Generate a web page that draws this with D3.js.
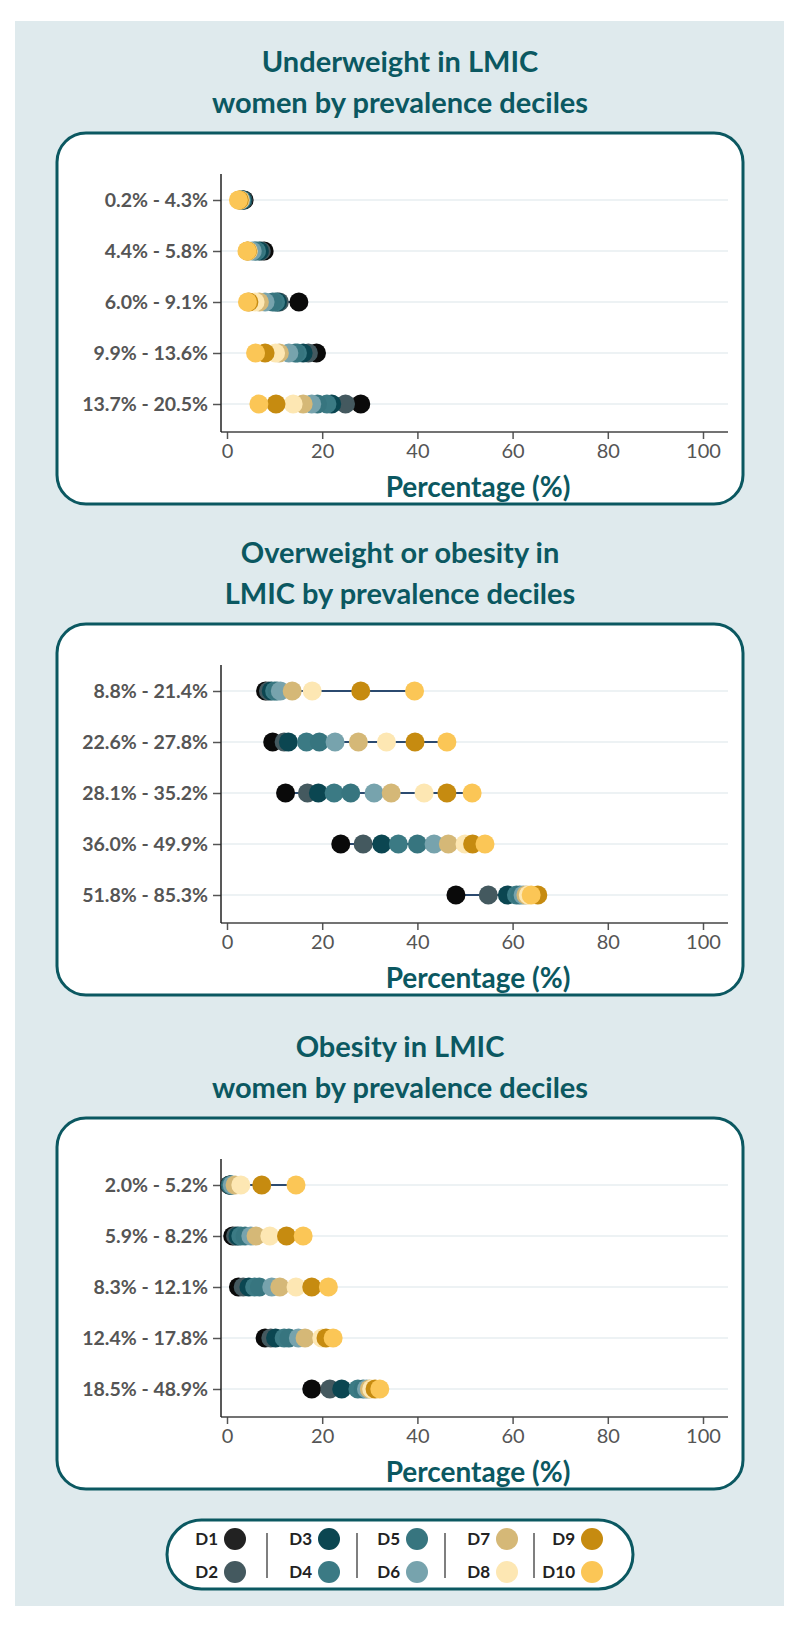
<!DOCTYPE html>
<html>
<head>
<meta charset="utf-8">
<script src="https://cdn.jsdelivr.net/npm/d3@7"></script>
<style>
  body { margin: 0; background: #ffffff; }
  svg { display: block; font-family: Lato, "Open Sans", sans-serif; }
</style>
</head>
<body>
<div id="chart"></div>
<script>
// decile names + colours (legend order)
var deciles = ["D1", "D2", "D3", "D4", "D5", "D6", "D7", "D8", "D9", "D10"];
var decileColors = ["#0a0a0a", "#44595f", "#0b4651", "#3b7a84", "#37757f", "#77a3ad", "#d5b877", "#fde7b3", "#c68b10", "#fbc656"];
var legendColors = ["#222222", "#44595f", "#0b4651", "#3b7a84", "#37757f", "#77a3ad", "#d5b877", "#fde7b3", "#c68b10", "#fbc656"];

var xTicks = [0, 20, 40, 60, 80, 100];

// panel 1 - underweight
var uwTitle = ["Underweight in LMIC", "women by prevalence deciles"];
var uwLabels = ["0.2% - 4.3%", "4.4% - 5.8%", "6.0% - 9.1%", "9.9% - 13.6%", "13.7% - 20.5%"];
var uwValues = [
  [3.6, 3.4, 3.3, 3.1, 3.0, 2.9, 2.8, 2.7, 2.6, 2.4],
  [7.8, 7.2, 6.8, 6.2, 5.8, 5.3, 4.5, 4.4, 4.3, 4.2],
  [15.1, 11.0, 10.6, 10.2, 9.6, 8.0, 6.8, 5.9, 4.6, 4.3],
  [18.8, 17.1, 16.0, 14.8, 14.3, 13.0, 11.0, 10.2, 8.0, 6.0],
  [28.1, 24.9, 22.0, 21.0, 19.0, 17.8, 16.0, 13.9, 10.3, 6.7]
];

// panel 2 - overweight or obesity
var owTitle = ["Overweight or obesity in", "LMIC by prevalence deciles"];
var owLabels = ["8.8% - 21.4%", "22.6% - 27.8%", "28.1% - 35.2%", "36.0% - 49.9%", "51.8% - 85.3%"];
var owValues = [
  [8.1, 8.7, 9.3, 10.0, 10.5, 11.2, 13.7, 17.9, 28.1, 39.4],
  [9.6, 12.0, 12.9, 16.7, 19.4, 22.7, 27.6, 33.5, 39.5, 46.2],
  [12.3, 16.9, 19.2, 22.5, 26.0, 30.9, 34.5, 41.4, 46.2, 51.5],
  [23.9, 28.6, 32.5, 36.0, 40.0, 43.5, 46.5, 50.0, 51.6, 54.2],
  [48.1, 54.9, 58.9, 60.8, 61.5, 62.2, 62.8, 63.3, 65.3, 63.9]
];

// panel 3 - obesity
var obTitle = ["Obesity in LMIC", "women by prevalence deciles"];
var obLabels = ["2.0% - 5.2%", "5.9% - 8.2%", "8.3% - 12.1%", "12.4% - 17.8%", "18.5% - 48.9%"];
var obValues = [
  [0.5, 0.6, 0.7, 0.8, 0.9, 1.1, 1.7, 2.9, 7.3, 14.5],
  [1.2, 1.8, 2.3, 2.9, 3.8, 5.0, 6.1, 9.0, 12.5, 16.0],
  [2.4, 3.4, 4.6, 5.8, 6.8, 9.4, 11.1, 14.5, 17.8, 21.3],
  [8.0, 9.2, 10.2, 12.0, 13.0, 15.0, 16.4, 19.9, 20.8, 22.3],
  [17.8, 21.6, 24.1, 27.5, 28.6, 29.3, 29.9, 30.4, 31.1, 32.1]
];

var W = 800, H = 1634;
var teal = "#0b5861";

var svg = d3.select("#chart").append("svg")
  .attr("width", W).attr("height", H);

// light background panel
svg.append("rect")
  .attr("x", 15).attr("y", 21).attr("width", 769).attr("height", 1585)
  .attr("fill", "#dfeaed");

var x = d3.scaleLinear().domain([0, 100]).range([227, 703]);

function Draw_Panel(title, labels, values, top){
  var g = svg.append("g");

  // title, two lines
  g.selectAll("text.title").data(title).enter()
    .append("text")
    .attr("class", "title")
    .attr("x", 400)
    .attr("y", function(d, i){ return top - 71 + i * 41; })
    .attr("dy", "0.35em")
    .attr("text-anchor", "middle")
    .attr("font-size", "29px")
    .attr("font-weight", "bold")
    .attr("fill", teal)
    .text(function(d){ return d; });

  // rounded box
  g.append("rect")
    .attr("x", 57).attr("y", top).attr("width", 686).attr("height", 371)
    .attr("rx", 29).attr("ry", 29)
    .attr("fill", "#ffffff")
    .attr("stroke", teal).attr("stroke-width", 3);

  var y = d3.scalePoint().domain(labels).range([top + 67, top + 271]);

  // gridlines
  g.selectAll("line.grid").data(labels).enter()
    .append("line")
    .attr("x1", 221).attr("x2", 728)
    .attr("y1", function(d){ return y(d); })
    .attr("y2", function(d){ return y(d); })
    .attr("stroke", "#edf2f4").attr("stroke-width", 2);

  // x axis
  var xAxis = g.append("g")
    .attr("transform", "translate(0," + (top + 299) + ")")
    .call(d3.axisBottom(x).tickValues(xTicks).tickSize(7).tickSizeOuter(0).tickPadding(5));
  xAxis.select(".domain").remove();
  xAxis.selectAll(".tick line").attr("stroke", "#555").attr("stroke-width", 1.5);
  xAxis.selectAll(".tick text")
    .attr("font-family", "Lato, sans-serif")
    .attr("font-size", "20px")
    .attr("fill", "#555555");
  g.append("line")
    .attr("x1", 221).attr("x2", 728)
    .attr("y1", top + 299).attr("y2", top + 299)
    .attr("stroke", "#444").attr("stroke-width", 1.5);

  // y axis
  var yAxis = g.append("g")
    .attr("transform", "translate(221,0)")
    .call(d3.axisLeft(y).tickSize(8).tickSizeOuter(0).tickPadding(5));
  yAxis.select(".domain").remove();
  yAxis.selectAll(".tick line").attr("stroke", "#555").attr("stroke-width", 1.5);
  yAxis.selectAll(".tick text")
    .attr("font-family", "Lato, sans-serif")
    .attr("font-size", "19.5px")
    .attr("font-weight", "bold")
    .attr("fill", "#555555");
  g.append("line")
    .attr("x1", 221).attr("x2", 221)
    .attr("y1", top + 41).attr("y2", top + 299)
    .attr("stroke", "#222").attr("stroke-width", 1.5);

  // axis title
  g.append("text")
    .attr("x", 478).attr("y", top + 354)
    .attr("dy", "0.35em")
    .attr("text-anchor", "middle")
    .attr("font-size", "28px")
    .attr("font-weight", "bold")
    .attr("fill", teal)
    .text("Percentage (%)");

  // connecting line per row, min to max
  g.selectAll("line.range").data(values).enter()
    .append("line")
    .attr("x1", function(d){ return x(d3.min(d)); })
    .attr("x2", function(d){ return x(d3.max(d)); })
    .attr("y1", function(d, i){ return y(labels[i]); })
    .attr("y2", function(d, i){ return y(labels[i]); })
    .attr("stroke", "#2b4a6f").attr("stroke-width", 2);

  // dots, D1 first so D10 ends on top
  values.forEach(function(row, i){
    g.selectAll(null).data(row).enter()
      .append("circle")
      .attr("cx", function(d){ return x(d); })
      .attr("cy", y(labels[i]))
      .attr("r", 9.5)
      .attr("fill", function(d, j){ return decileColors[j]; });
  });
}

Draw_Panel(uwTitle, uwLabels, uwValues, 133);
Draw_Panel(owTitle, owLabels, owValues, 624);
Draw_Panel(obTitle, obLabels, obValues, 1118);

// legend
var legend = svg.append("g");
legend.append("rect")
  .attr("x", 167).attr("y", 1520).attr("width", 466).attr("height", 69)
  .attr("rx", 34.5).attr("ry", 34.5)
  .attr("fill", "#ffffff")
  .attr("stroke", teal).attr("stroke-width", 3);

var legendCx = [235, 329, 417, 507, 592];
var legendRows = [1539, 1572];
var legendSeps = [267, 357, 445, 534];

legend.selectAll("line.sep").data(legendSeps).enter()
  .append("line")
  .attr("x1", function(d){ return d; }).attr("x2", function(d){ return d; })
  .attr("y1", 1533).attr("y2", 1578)
  .attr("stroke", "#555").attr("stroke-width", 1.5);

deciles.forEach(function(name, k){
  var cx = legendCx[Math.floor(k / 2)];
  var cy = legendRows[k % 2];
  legend.append("circle")
    .attr("cx", cx).attr("cy", cy).attr("r", 11)
    .attr("fill", legendColors[k]);
  legend.append("text")
    .attr("x", cx - 17).attr("y", cy)
    .attr("dy", "0.35em")
    .attr("text-anchor", "end")
    .attr("font-size", "17px")
    .attr("font-weight", "bold")
    .attr("fill", "#222")
    .text(name);
});
</script>
</body>
</html>
